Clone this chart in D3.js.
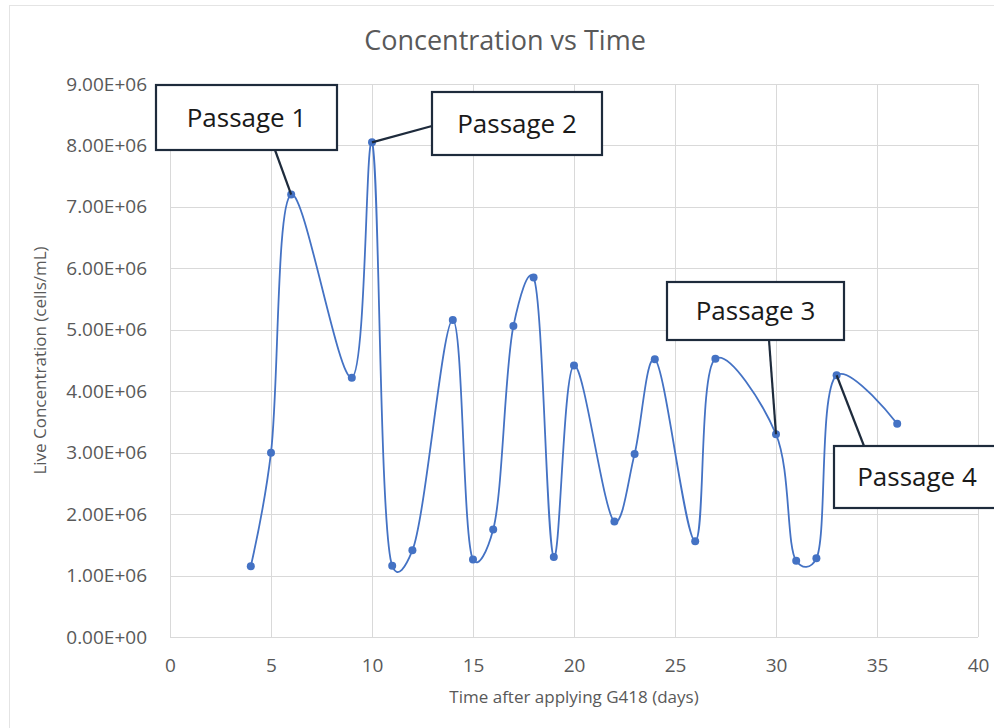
<!DOCTYPE html>
<html>
<head>
<meta charset="utf-8">
<script src="https://cdn.jsdelivr.net/npm/d3@7/dist/d3.min.js"></script>
<style>
  html, body { margin: 0; padding: 0; background: #fff; }
  svg { display: block; font-family: "Open Sans", "Noto Sans", sans-serif; }
</style>
</head>
<body>
<svg id="chart" width="994" height="728"></svg>
<script>
// Days after G418 was applied and the live cell concentration measured on each day
const days = [4, 5, 6, 9, 10, 11, 12, 14, 15, 16, 17, 18, 19, 20, 22, 23, 24, 26, 27, 30, 31, 32, 33, 36];
const liveConc = [1.15e6, 3.0e6, 7.2e6, 4.22e6, 8.05e6, 1.16e6, 1.41e6, 5.16e6, 1.26e6, 1.75e6, 5.06e6, 5.85e6,
                  1.30e6, 4.42e6, 1.88e6, 2.98e6, 4.52e6, 1.56e6, 4.53e6, 3.30e6, 1.24e6, 1.28e6, 4.26e6, 3.47e6];

const xTicks = [0, 5, 10, 15, 20, 25, 30, 35, 40];
const yTicks = [0, 1e6, 2e6, 3e6, 4e6, 5e6, 6e6, 7e6, 8e6, 9e6];

// Passage events: label and the day at which the cells were passaged
const passageLabels = ["Passage 1", "Passage 2", "Passage 3", "Passage 4"];
const passageDays = [6, 10, 30, 33];

const svg = d3.select("#chart");
const W = 994, H = 728;
const margin = { left: 170, right: 16, top: 84, bottom: 91 };

const x = d3.scaleLinear().domain([0, 40]).range([margin.left, W - margin.right]);
const y = d3.scaleLinear().domain([0, 9e6]).range([H - margin.bottom, margin.top]);

const textCol = "#595959";
const gridCol = "#d9d9d9";
const lineCol = "#4472c4";
const boxCol = "#1e2b3c";

// chart frame
svg.append("rect").attr("x", 9.5).attr("y", 5.5).attr("width", W - 9).attr("height", H - 4)
  .attr("fill", "#fff").attr("stroke", "#e4e4e4").attr("stroke-width", 1);

// gridlines
const grid = svg.append("g");
grid.selectAll("line.h").data(yTicks).join("line").attr("class", "h")
  .attr("x1", x(0)).attr("x2", x(40))
  .attr("y1", d => Math.round(y(d)) + 0.5).attr("y2", d => Math.round(y(d)) + 0.5)
  .attr("stroke", gridCol).attr("stroke-width", 1);
grid.selectAll("line.v").data(xTicks).join("line").attr("class", "v")
  .attr("y1", y(0)).attr("y2", y(9e6))
  .attr("x1", d => Math.round(x(d)) + 0.5).attr("x2", d => Math.round(x(d)) + 0.5)
  .attr("stroke", gridCol).attr("stroke-width", 1);

// axes
const fmtSci = d => {
  const e = d === 0 ? 0 : Math.floor(Math.log10(d));
  const m = d === 0 ? 0 : d / Math.pow(10, e);
  return m.toFixed(2) + "E+" + String(e).padStart(2, "0");
};
const yAxis = svg.append("g").attr("transform", `translate(${x(0) - 23},0)`)
  .call(d3.axisLeft(y).tickValues(yTicks).tickFormat(fmtSci).tickSize(0).tickPadding(0));
const xAxis = svg.append("g").attr("transform", `translate(0,${y(0) + 21})`)
  .call(d3.axisBottom(x).tickValues(xTicks).tickFormat(d3.format("d")).tickSize(0).tickPadding(0));
[yAxis, xAxis].forEach(a => {
  a.select(".domain").remove();
  a.selectAll("text").attr("fill", textCol).style("font-size", "19px")
    .style("font-family", "'Open Sans', sans-serif");
});
xAxis.selectAll("text").attr("dy", "0.71em");

// title and axis titles
svg.append("text").attr("x", 505).attr("y", 50).attr("text-anchor", "middle")
  .attr("fill", textCol).style("font-size", "27px").text("Concentration vs Time");
svg.append("text").attr("x", (x(0) + x(40)) / 2).attr("y", 703).attr("text-anchor", "middle")
  .attr("fill", textCol).style("font-size", "17px").text("Time after applying G418 (days)");
svg.append("text").attr("transform", `translate(46,${(y(0) + y(9e6)) / 2}) rotate(-90)`)
  .attr("text-anchor", "middle").attr("fill", textCol).style("font-size", "17px")
  .text("Live Concentration (cells/mL)");

// smoothed series line and markers
const pts = days.map((d, i) => [d, liveConc[i]]);
svg.append("path").datum(pts)
  .attr("d", d3.line().x(d => x(d[0])).y(d => y(d[1])).curve(d3.curveCatmullRom.alpha(0.3)))
  .attr("fill", "none").attr("stroke", lineCol).attr("stroke-width", 1.8);
svg.append("g").selectAll("circle").data(pts).join("circle")
  .attr("cx", d => x(d[0])).attr("cy", d => y(d[1])).attr("r", 4)
  .attr("fill", lineCol);

// passage callouts: box geometry and where the leader leaves the box
const boxes = [
  { x0: 156, y0: 85, x1: 337, y1: 150, ax: 275, ay: 150 },
  { x0: 432, y0: 92, x1: 602, y1: 155, ax: 432, ay: 126 },
  { x0: 667, y0: 282, x1: 844, y1: 340, ax: 769, ay: 340 },
  { x0: 834, y0: 446, x1: 1000, y1: 508, ax: 864, ay: 446 }
];
const ann = svg.append("g");
passageLabels.forEach((lab, i) => {
  const b = boxes[i];
  const di = days.indexOf(passageDays[i]);
  ann.append("line").attr("x1", b.ax).attr("y1", b.ay)
    .attr("x2", x(days[di])).attr("y2", y(liveConc[di]))
    .attr("stroke", boxCol).attr("stroke-width", 2.2);
});
passageLabels.forEach((lab, i) => {
  const b = boxes[i];
  ann.append("rect").attr("x", b.x0).attr("y", b.y0).attr("width", b.x1 - b.x0).attr("height", b.y1 - b.y0)
    .attr("fill", "#fff").attr("stroke", boxCol).attr("stroke-width", 2.2);
  const cx = i === 3 ? 917 : (b.x0 + b.x1) / 2;
  ann.append("text").attr("x", cx).attr("y", (b.y0 + b.y1) / 2).attr("dy", "0.35em")
    .attr("text-anchor", "middle").attr("fill", "#1a1a1a").style("font-size", "26px").text(lab);
});
</script>
</body>
</html>
